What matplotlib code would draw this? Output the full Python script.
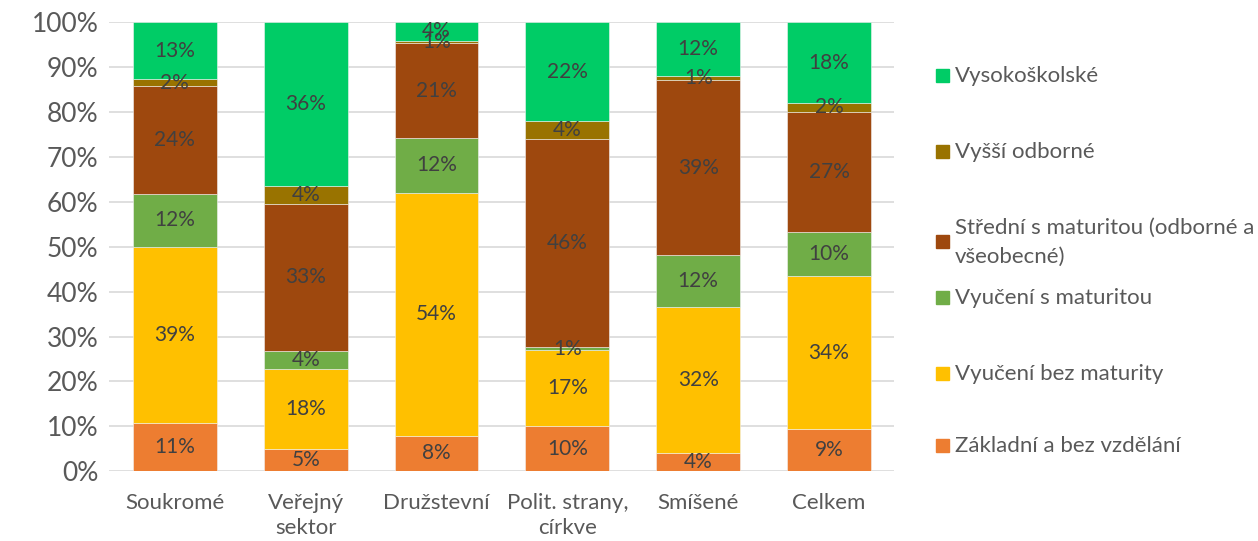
import matplotlib.pyplot as plt
from matplotlib.patches import Rectangle
import numpy as np

plt.rcParams['font.family'] = ['Lato', 'DejaVu Sans']

categories = ["Soukromé", "Veřejný\nsektor", "Družstevní", "Polit. strany,\ncírkve", "Smíšené", "Celkem"]

# shares in %, bottom to top
zakladni = [10.7, 4.9, 7.9, 10.1, 4.1, 9.3]
vyuceni_bez = [39.3, 17.9, 54.1, 16.8, 32.4, 34.2]
vyuceni_s = [11.7, 3.9, 12.2, 0.7, 11.6, 9.8]
stredni = [24.0, 32.9, 21.1, 46.4, 39.0, 26.7]
vyssi = [1.6, 3.9, 0.6, 3.9, 0.9, 2.0]
vysokoskolske = [12.7, 36.5, 4.1, 22.1, 12.0, 18.0]

series = [
    ("Základní a bez vzdělání", zakladni, "#ED7D31"),
    ("Vyučení bez maturity", vyuceni_bez, "#FFC000"),
    ("Vyučení s maturitou", vyuceni_s, "#70AD47"),
    ("Střední s maturitou (odborné a\nvšeobecné)", stredni, "#9E480E"),
    ("Vyšší odborné", vyssi, "#997300"),
    ("Vysokoškolské", vysokoskolske, "#00CC66"),
]

fig = plt.figure(figsize=(12.58, 5.41), dpi=100)
ax = fig.add_axes([0.087, 0.129, 0.624, 0.830])

x = np.arange(len(categories))
bottom = np.zeros(len(categories))
for name, vals, color in series:
    vals = np.array(vals)
    ax.bar(x, vals, 0.64, bottom=bottom, color=color, edgecolor="#f2f2f2", linewidth=0.4, zorder=2)
    for xi, b, v in zip(x, bottom, vals):
        ax.text(xi, b + v / 2, f"{v:.0f}%", ha="center", va="center", fontsize=15, color="#404040", zorder=3)
    bottom += vals

ax.set_xlim(-0.5, len(categories) - 0.5)
ax.set_ylim(0, 100)
ax.set_yticks(range(0, 101, 10))
ax.set_yticklabels([f"{t}%" for t in range(0, 101, 10)])
ax.set_xticks(x)
ax.set_xticklabels(categories, linespacing=1.3)
ax.tick_params(axis="y", length=0, labelsize=19, labelcolor="#595959", pad=8)
ax.tick_params(axis="x", length=0, labelsize=16, labelcolor="#595959", pad=16)
ax.grid(axis="y", color="#d9d9d9", linewidth=1.2, zorder=0)
for s in ax.spines.values():
    s.set_visible(False)

# legend, top entry first
legend_y = [76, 152, 242, 298, 374, 446]
for (name, vals, color), ypx in zip(reversed(series), legend_y):
    yf = 1 - ypx / 541
    fig.patches.append(Rectangle((936 / 1258, yf - 6 / 541), 13 / 1258, 13 / 541,
                                 transform=fig.transFigure, color=color))
    fig.text(955 / 1258, yf, name, ha="left", va="center", fontsize=16, color="#595959",
             linespacing=1.55)

fig.savefig("out.png", dpi=100)
